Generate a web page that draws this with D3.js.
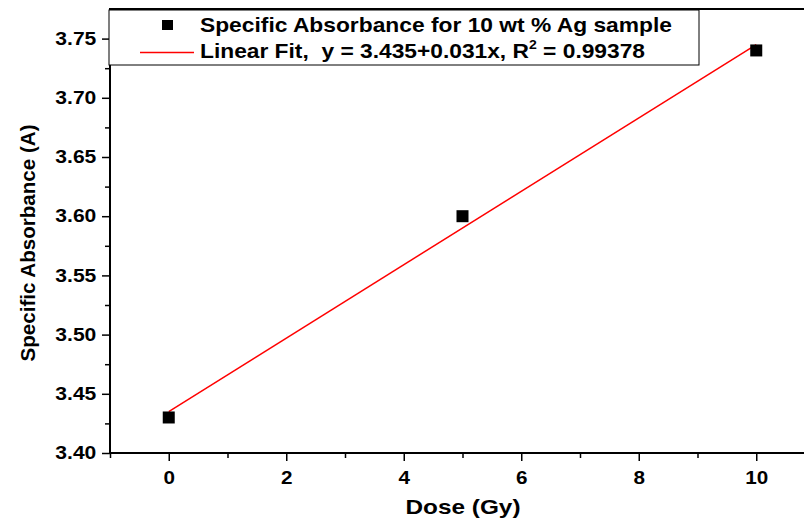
<!DOCTYPE html>
<html><head><meta charset="utf-8">
<script src="https://cdn.jsdelivr.net/npm/d3@7"></script>
<style>body{margin:0;background:#fff}svg{display:block}text{font-family:"Liberation Sans",Arial,sans-serif;font-weight:bold}</style>
</head><body><svg id="c" width="804" height="518"></svg>
<script>
const doses = [0, 5, 10];
const absorbance = [3.43, 3.60, 3.74];
const fitIntercept = 3.435, fitSlope = 0.031;
const fitX = [0, 10];
const xTicks = [0, 2, 4, 6, 8, 10];
const xMinor = [-1, 1, 3, 5, 7, 9, 11];
const yTicks = [3.40, 3.45, 3.50, 3.55, 3.60, 3.65, 3.70, 3.75];
const yMinor = [3.425, 3.475, 3.525, 3.575, 3.625, 3.675, 3.725];
const legendLabels = ["Specific Absorbance for 10 wt % Ag sample", "Linear Fit,  y = 3.435+0.031x, R", "2", " = 0.99378"];

const svg = d3.select("#c");
const L = 110, R = 815, T = 9, B = 453;
const x = d3.scaleLinear().domain([-1, 11]).range([L, R]);
const y = d3.scaleLinear().domain([3.40, 3.775]).range([B, T]);

// frame
svg.append("rect").attr("x", L).attr("y", T).attr("width", R - L).attr("height", B - T)
  .attr("fill", "none").attr("stroke", "#000").attr("stroke-width", 2);

// x axis
const xa = svg.append("g").attr("transform", `translate(0,${B})`)
  .call(d3.axisBottom(x).tickValues(xTicks).tickSize(8).tickFormat(d3.format("d")));
xa.select(".domain").remove();
xa.selectAll("line").attr("stroke-width", 1.5);
xa.selectAll("text").attr("font-size", 18).attr("dy", "1.1em").attr("fill", "#000")
  .attr("textLength", (d) => String(d).length * 11.5).attr("lengthAdjust", "spacingAndGlyphs");
const xm = svg.append("g").attr("transform", `translate(0,${B})`)
  .call(d3.axisBottom(x).tickValues(xMinor).tickSize(5).tickFormat(""));
xm.select(".domain").remove();
xm.selectAll("line").attr("stroke-width", 1.5);

// y axis
const ya = svg.append("g").attr("transform", `translate(${L},0)`)
  .call(d3.axisLeft(y).tickValues(yTicks).tickSize(8).tickFormat(d3.format(".2f")));
ya.select(".domain").remove();
ya.selectAll("line").attr("stroke-width", 1.5);
ya.selectAll("text").attr("font-size", 18).attr("dx", "-0.15em").attr("fill", "#000")
  .attr("textLength", 41).attr("lengthAdjust", "spacingAndGlyphs");
const ym = svg.append("g").attr("transform", `translate(${L},0)`)
  .call(d3.axisLeft(y).tickValues(yMinor).tickSize(5).tickFormat(""));
ym.select(".domain").remove();
ym.selectAll("line").attr("stroke-width", 1.5);

// titles
svg.append("text").attr("x", 463).attr("y", 514).attr("text-anchor", "middle")
  .attr("font-size", 21).attr("textLength", 115).attr("lengthAdjust", "spacingAndGlyphs").text("Dose (Gy)");
svg.append("text").attr("transform", "translate(35,243) rotate(-90)").attr("text-anchor", "middle")
  .attr("font-size", 21).attr("textLength", 237).attr("lengthAdjust", "spacingAndGlyphs").text("Specific Absorbance (A)");

// fit line
svg.append("line")
  .attr("x1", x(fitX[0])).attr("y1", y(fitIntercept + fitSlope * fitX[0]))
  .attr("x2", x(fitX[1])).attr("y2", y(fitIntercept + fitSlope * fitX[1]))
  .attr("stroke", "#ff0000").attr("stroke-width", 1.5);

// points
const s = 12;
svg.selectAll("rect.pt").data(doses).enter().append("rect").attr("class", "pt")
  .attr("x", (d) => x(d) - s / 2).attr("y", (d, i) => y(absorbance[i]) - s / 2)
  .attr("width", s).attr("height", s).attr("fill", "#000");

// legend
const lg = svg.append("g");
lg.append("rect").attr("x", 109).attr("y", 10).attr("width", 590).attr("height", 55)
  .attr("fill", "#fff").attr("stroke", "#000").attr("stroke-width", 1);
lg.append("rect").attr("x", 162).attr("y", 20).attr("width", 11).attr("height", 10).attr("fill", "#000");
lg.append("line").attr("x1", 140).attr("x2", 194).attr("y1", 52.5).attr("y2", 52.5)
  .attr("stroke", "#ff0000").attr("stroke-width", 1.5);
lg.append("text").attr("x", 200).attr("y", 31.5).attr("font-size", 21)
  .attr("textLength", 472).attr("lengthAdjust", "spacingAndGlyphs").text(legendLabels[0]);
const t2 = lg.append("text").attr("x", 200).attr("y", 58).attr("font-size", 21)
  .style("white-space", "pre")
  .attr("textLength", 445).attr("lengthAdjust", "spacingAndGlyphs");
t2.append("tspan").text(legendLabels[1]);
t2.append("tspan").attr("font-size", 13).attr("dy", -9).text(legendLabels[2]);
t2.append("tspan").attr("dy", 9).text(legendLabels[3]);
</script></body></html>
